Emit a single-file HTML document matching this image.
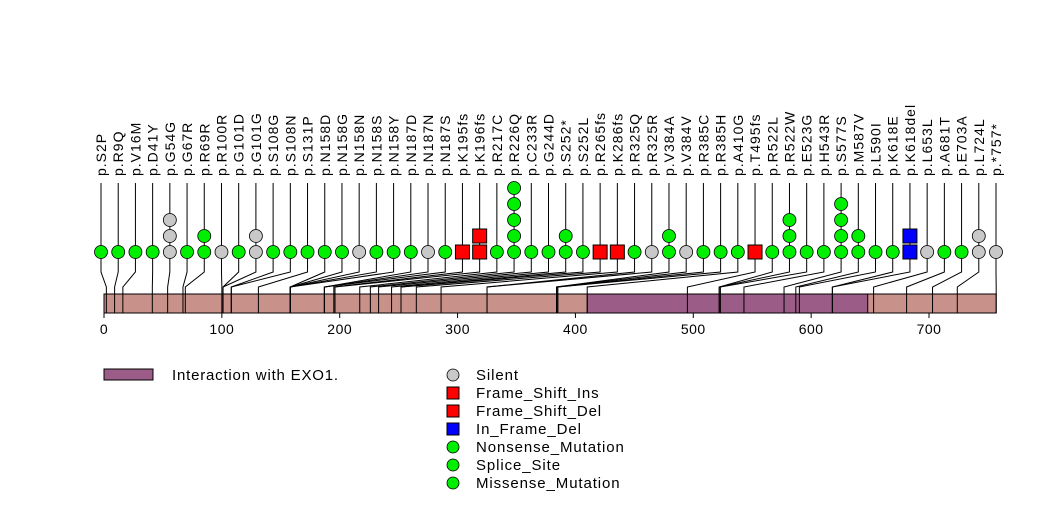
<!DOCTYPE html>
<html><head><meta charset="utf-8"><style>
body{margin:0;background:#fff}
svg text{font-family:"Liberation Sans",sans-serif}
</style></head><body>
<svg id="c" width="1047" height="524" xmlns="http://www.w3.org/2000/svg">
<g id="g"></g>
</svg>
<script>
const labels=["p.S2P","p.R9Q","p.V16M","p.D41Y","p.G54G","p.G67R","p.R69R","p.R100R","p.G101D","p.G101G","p.S108G","p.S108N","p.S131P","p.N158D","p.N158G","p.N158N","p.N158S","p.N158Y","p.N187D","p.N187N","p.N187S","p.K195fs","p.K196fs","p.R217C","p.R226Q","p.C233R","p.G244D","p.S252*","p.S252L","p.R265fs","p.K286fs","p.R325Q","p.R325R","p.V384A","p.V384V","p.R385C","p.R385H","p.A410G","p.T495fs","p.R522L","p.R522W","p.E523G","p.H543R","p.S577S","p.M587V","p.L590I","p.K618E","p.K618del","p.L653L","p.A681T","p.E703A","p.L724L","p.*757*"];
const positions=[2,9,16,41,54,67,69,100,101,101,108,108,131,158,158,158,158,158,187,187,187,195,196,217,226,233,244,252,252,265,286,325,325,384,384,385,385,410,495,522,522,523,543,577,587,590,618,618,653,681,703,724,757];
const counts=[1,1,1,1,3,1,2,1,1,2,1,1,1,1,1,1,1,1,1,1,1,1,2,1,5,1,1,2,1,1,1,1,1,2,1,1,1,1,1,1,3,1,1,4,2,1,1,2,1,1,1,2,1];
const types=["G","G","G","G","S","G","G","S","G","S","G","G","G","G","G","S","G","G","G","S","G","R","R","G","G","G","G","G","G","R","R","G","S","G","S","G","G","G","R","G","G","G","G","G","G","G","G","B","S","G","G","S","S"];
const domainStart=[410];const domainEnd=[648];
const ticks=[0,100,200,300,400,500,600,700];
const proteinLen=757;
const NS="http://www.w3.org/2000/svg";
const g=document.getElementById('g');
const sx=v=>104+v*(825/700);
function el(t,a,p){const e=document.createElementNS(NS,t);for(const k in a)e.setAttribute(k,a[k]);(p||g).appendChild(e);return e;}
const col={G:"#00ee00",S:"#c8c8c8",R:"#ff0000",B:"#0000ff"};
let r=el('rect',{x:sx(0),y:294,width:sx(proteinLen)-sx(0),height:19,fill:"#c8918a",stroke:"#000"});

for(let i=0;i<domainStart.length;i++){let d=el('rect',{x:sx(domainStart[i]),y:294,width:sx(domainEnd[i])-sx(domainStart[i]),height:19,fill:"#9c5c88",stroke:"#000"});
}
ticks.forEach(t=>{el('line',{x1:sx(t),x2:sx(t),y1:313,y2:318,stroke:"#000"});
let tx=el('text',{x:sx(t),y:334,"font-size":14,"letter-spacing":0.5,"text-anchor":"middle"});tx.textContent=t;
});
const n=labels.length,x0=101,x1=996,step=(x1-x0)/(n-1);
labels.forEach((lab,i)=>{
 const lx=x0+i*step,px=sx(positions[i]);
 el('polyline',{points:`${lx},183 ${lx},272 ${px},287 ${px},313`,fill:"none",stroke:"#000","stroke-width":1});
 let t=el('text',{transform:`translate(${lx+5},176) rotate(-90)`,"font-size":14,"letter-spacing":1});t.textContent=lab;
 
 for(let k=0;k<counts[i];k++){const y=252-k*16,c=col[types[i]];let m;
  if(types[i]=="R"||types[i]=="B")m=el('rect',{x:lx-7,y:y-7,width:14,height:14,fill:c,stroke:"#000"});
  else m=el('circle',{cx:lx,cy:y,r:6.5,fill:c,stroke:"#000","stroke-width":0.8});
  }
});
let lr=el('rect',{x:104,y:369,width:49,height:11,fill:"#9c5c88",stroke:"#000"});

let lt=el('text',{x:172,y:380,"font-size":15,"letter-spacing":0.8});lt.textContent="Interaction with EXO1.";

const leg=[["Silent","S","c"],["Frame_Shift_Ins","R","s"],["Frame_Shift_Del","R","s"],["In_Frame_Del","B","s"],["Nonsense_Mutation","G","c"],["Splice_Site","G","c"],["Missense_Mutation","G","c"]];
leg.forEach((L,i)=>{const y=375+i*18;let m;
 if(L[2]=="s")m=el('rect',{x:447,y:y-6,width:12,height:12,fill:col[L[1]],stroke:"#000"});
 else m=el('circle',{cx:453,cy:y,r:6,fill:col[L[1]],stroke:"#000","stroke-width":0.8});
 
 let t=el('text',{x:476,y:y+5,"font-size":15,"letter-spacing":0.9});t.textContent=L[0];
 });
</script>
</body></html>
